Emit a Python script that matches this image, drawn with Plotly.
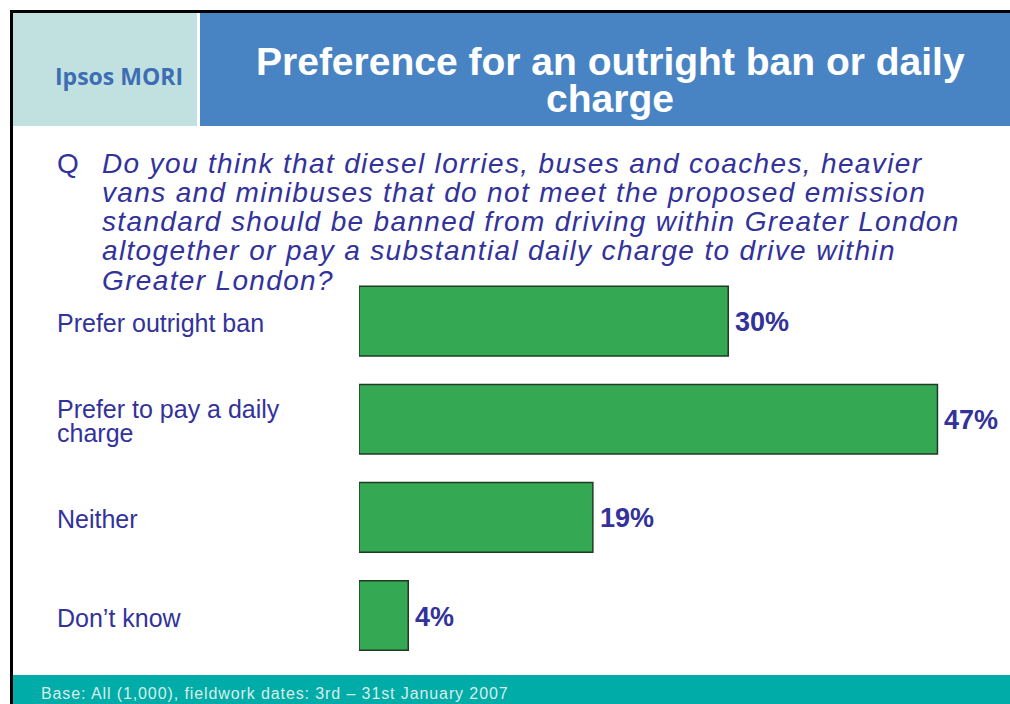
import plotly.graph_objects as go

# Survey results
categories = ["Prefer outright ban", "Prefer to pay a daily charge", "Neither", "Don\u2019t know"]
category_lines = [["Prefer outright ban"], ["Prefer to pay a daily", "charge"], ["Neither"], ["Don\u2019t know"]]
values = [30, 47, 19, 4]

# Slide text
brand = "Ipsos MORI"
title_lines = ["Preference for an outright ban or daily", "charge"]
question_lines = [
    "Do you think that diesel lorries, buses and coaches, heavier",
    "vans and minibuses that do not meet the proposed emission",
    "standard should be banned from driving within Greater London",
    "altogether or pay a substantial daily charge to drive within",
    "Greater London?",
]
footer_text = "Base: All (1,000), fieldwork dates: 3rd \u2013 31st January 2007"

W, H = 1010, 704
INK = "#32329a"
FONT = "Liberation Sans, Arial, sans-serif"


def px(x):
    return x / W


def py(y):
    return 1 - y / H


fig = go.Figure(
    go.Bar(
        x=values,
        y=categories,
        orientation="h",
        width=0.71,
        marker=dict(color="#35a853", line=dict(color="#1f3b25", width=1.5)),
        hoverinfo="skip",
    )
)

shapes = [
    # slide frame
    dict(type="rect", x0=px(10), x1=px(1010), y0=py(13), y1=py(10), fillcolor="#000000", line_width=0),
    dict(type="rect", x0=px(10), x1=px(13), y0=py(704), y1=py(10), fillcolor="#000000", line_width=0),
    # logo panel and title banner
    dict(type="rect", x0=px(13), x1=px(197), y0=py(126), y1=py(13), fillcolor="#c1e1e1", line_width=0),
    dict(type="rect", x0=px(200), x1=px(1010), y0=py(126), y1=py(13), fillcolor="#4884c4", line_width=0),
    # footer band
    dict(type="rect", x0=px(13), x1=px(1010), y0=py(704), y1=py(675), fillcolor="#00aca7", line_width=0),
]
for s in shapes:
    s.update(xref="paper", yref="paper", layer="below")

ann = []
ann.append(dict(x=px(119), y=py(76), text=f"<b>{brand}</b>", xanchor="center", yanchor="middle",
                font=dict(family="Open Sans, sans-serif", size=23, color="#3d6db3")))
for i, line in enumerate(title_lines):
    ann.append(dict(x=px(610), y=py(61 + i * 37.5), text=f"<b>{line}</b>", xanchor="center", yanchor="middle",
                    font=dict(family=FONT, size=39, color="#ffffff")))

ann.append(dict(x=px(55), y=py(163), text="Q", xanchor="left", yanchor="middle",
                font=dict(family=FONT, size=28, color=INK)))
for i, line in enumerate(question_lines):
    ann.append(dict(x=px(100), y=py(163 + i * 29.3),
                    text=f'<span style="letter-spacing:1.35px">{line}</span>',
                    xanchor="left", yanchor="middle",
                    font=dict(family=FONT, size=28, color=INK, style="italic")))

for cat, lines in zip(categories, category_lines):
    n = len(lines)
    for j, line in enumerate(lines):
        ann.append(dict(x=px(55), xref="paper", y=cat, yref="y", text=line,
                        xanchor="left", yanchor="middle", yshift=-2 - (j - (n - 1) / 2) * 24,
                        font=dict(family=FONT, size=25, color=INK)))

for cat, v in zip(categories, values):
    ann.append(dict(x=v, xref="x", y=cat, yref="y", text=f"<b>{v}%</b>", xanchor="left", yanchor="middle",
                    xshift=5, yshift=-1, font=dict(family=FONT, size=27, color=INK)))

ann.append(dict(x=px(39), y=py(693), text=f'<span style="letter-spacing:0.9px">{footer_text}</span>',
                xanchor="left", yanchor="middle", font=dict(family=FONT, size=16, color="#d9ecea")))

for a in ann:
    a.setdefault("xref", "paper")
    a.setdefault("yref", "paper")
    a["showarrow"] = False

fig.update_layout(
    width=W,
    height=H,
    margin=dict(l=0, r=0, t=0, b=0),
    paper_bgcolor="#ffffff",
    plot_bgcolor="rgba(0,0,0,0)",
    showlegend=False,
    shapes=shapes,
    annotations=ann,
    xaxis=dict(domain=[px(359), px(999)], range=[0, 52], visible=False, fixedrange=True),
    yaxis=dict(domain=[py(664.6), py(272)], range=[3.5, -0.5], visible=False, fixedrange=True),
)

fig.write_html("out.html", config={"displayModeBar": False})
